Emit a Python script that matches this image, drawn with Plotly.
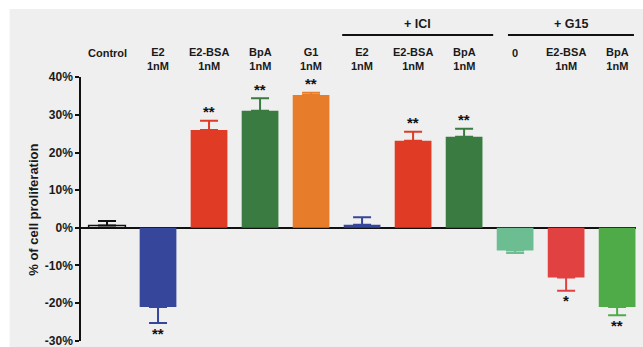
import plotly.graph_objects as go

# ---- data ----
label_top = ["Control", "E2", "E2-BSA", "BpA", "G1", "E2", "E2-BSA", "BpA", "0", "E2-BSA", "BpA"]
label_bottom = ["", "1nM", "1nM", "1nM", "1nM", "1nM", "1nM", "1nM", "", "1nM", "1nM"]
values = [0.6, -21.0, 26.0, 31.1, 35.3, 0.8, 23.1, 24.2, -6.0, -13.2, -21.0]
errors = [1.2, 4.3, 2.4, 3.3, 0.6, 2.0, 2.4, 2.1, 0.7, 3.5, 2.2]
signif = ["", "**", "**", "**", "**", "", "**", "**", "", "*", "**"]
colors = ["#efefef", "#36479b", "#e03b24", "#3a7b41", "#e77d2a", "#36479b",
          "#e03b24", "#3a7b41", "#6cbd91", "#e24141", "#4eab47"]
err_colors = ["#111111", "#36479b", "#e03b24", "#3a7b41", "#e77d2a", "#36479b",
              "#e03b24", "#3a7b41", "#6cbd91", "#e24141", "#4eab47"]
groups = [("+ ICI", 4.61, 7.57), ("+ G15", 7.86, 10.33)]
y_ticks = [-30, -20, -10, 0, 10, 20, 30, 40]
y_tick_text = ["-30%", "-20%", "-10%", "0%", "10%", "20%", "30%", "40%"]

FONT = "Liberation Sans"
x = list(range(len(values)))

TOP, BOTTOM = 77, 341
H = BOTTOM - TOP

fig = go.Figure()
for i, v in enumerate(values):
    up = errors[i] if v >= 0 else 0
    down = errors[i] if v < 0 else 0
    fig.add_trace(go.Bar(
        x=[x[i]], y=[v], width=0.72,
        marker=dict(color=colors[i],
                    line=dict(color="#111111" if i == 0 else colors[i], width=1.5 if i == 0 else 0)),
        error_y=dict(type="data", symmetric=False, array=[up], arrayminus=[down],
                     color=err_colors[i], thickness=2, width=9),
        showlegend=False, hoverinfo="skip", cliponaxis=False,
    ))

annotations = []
# significance stars
for i, s in enumerate(signif):
    if not s:
        continue
    v = values[i]
    end = v + errors[i] if v >= 0 else v - errors[i]
    annotations.append(dict(
        x=x[i], y=end, xref="x", yref="y", text=s, showarrow=False,
        font=dict(family=FONT, size=15, color="#111111", weight="bold"),
        yanchor="middle", yshift=9 if v >= 0 else -10,
    ))

# category labels above plot
def py(pixel):
    return (BOTTOM - pixel) / float(H)

for i in range(len(values)):
    if label_bottom[i]:
        txt = label_top[i] + "<br>" + label_bottom[i]
        yy = py(58.5)
    else:
        txt = label_top[i]
        yy = py(53)
    annotations.append(dict(
        x=x[i], y=yy, xref="x", yref="paper", text=txt, showarrow=False,
        font=dict(family=FONT, size=11, color="#1a1a1a", weight="bold"),
        yanchor="middle", xanchor="center",
    ))

shapes = [
    dict(type="rect", xref="paper", yref="paper", x0=-0.2, x1=1.1,
         y0=py(9), y1=py(-5), fillcolor="white", line=dict(width=0), layer="below"),
    dict(type="rect", xref="paper", yref="paper", x0=-0.2, x1=(10 - 81) / 552.0,
         y0=-0.1, y1=1.4, fillcolor="white", line=dict(width=0), layer="below"),
]
for name, x0, x1 in groups:
    shapes.append(dict(type="line", xref="x", yref="paper", x0=x0, x1=x1,
                       y0=py(35), y1=py(35), line=dict(color="#111111", width=2)))
    annotations.append(dict(
        x=(x0 + x1) / 2, y=py(24), xref="x", yref="paper", text=name, showarrow=False,
        font=dict(family=FONT, size=12.5, color="#1a1a1a", weight="bold"),
        yanchor="middle",
    ))

# y axis title
annotations.append(dict(
    x=(33 - 81) / 552.0, y=py(210), xref="paper", yref="paper",
    text="% of cell proliferation", textangle=-90, showarrow=False,
    font=dict(family=FONT, size=13, color="#1a1a1a", weight="bold"),
    xanchor="center", yanchor="middle",
))

fig.update_layout(
    width=643, height=347,
    margin=dict(l=81, r=7, t=TOP, b=347 - BOTTOM),
    paper_bgcolor="#efefef", plot_bgcolor="rgba(0,0,0,0)",
    barmode="overlay",
    xaxis=dict(range=[-0.51, 10.37], showticklabels=False, showgrid=False,
               zeroline=False, showline=False, ticks=""),
    yaxis=dict(range=[-30.05, 40.05], tickmode="array", tickvals=y_ticks, ticktext=y_tick_text,
               showgrid=False, zeroline=True, zerolinecolor="#111111", zerolinewidth=1.5,
               showline=True, linecolor="#111111", linewidth=1.5, automargin=False,
               ticks="outside", ticklen=4, tickwidth=1.5, tickcolor="#111111",
               ticklabeloverflow="allow",
               tickfont=dict(family=FONT, size=12, color="#1a1a1a", weight="bold")),
    annotations=annotations, shapes=shapes,
)

fig.write_html("out.html")
